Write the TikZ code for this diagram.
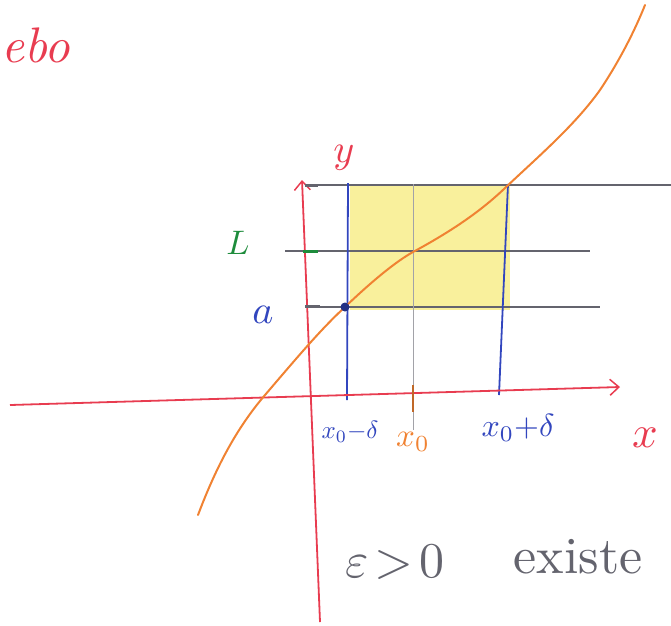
\documentclass[tikz,border=0pt]{standalone}
\usepackage{graphicx}
\usetikzlibrary{arrows.meta}
\definecolor{penred}{RGB}{232,60,80}
\definecolor{penblue}{RGB}{50,70,190}
\definecolor{pengreen}{RGB}{30,140,60}
\definecolor{penorange}{RGB}{240,130,50}
\definecolor{pengray}{RGB}{100,100,110}
\definecolor{hilite}{RGB}{245,230,90}
\tikzset{
  axis/.style={penred, line width=1.8pt, -{Straight Barb[length=9pt,width=16pt,line width=1.5pt]}},
  guide/.style={pengray, line width=1.3pt},
  vline/.style={penblue, line width=1.8pt},
  curve/.style={penorange, line width=2pt, line cap=round},
  lbl/.style={inner sep=0pt},
}
\newcommand{\sk}[2]{\scalebox{#1}{#2}}
\begin{document}
\begin{tikzpicture}[x=1pt,y=-1pt]
\useasboundingbox (0,0) rectangle (671,625);
% highlight
\fill[hilite, opacity=0.6] (350,184) rectangle (510,310);
% guides
\draw[guide] (305,185) -- (671,185);
\draw[guide] (285,251) -- (590,251);
\draw[guide] (305,307) -- (600,307);
\draw[guide, pengray!60, line width=0.9pt] (413,184) -- (413,430);
% vertical blue lines
\draw[vline] (348,183) -- (347,400);
\draw[vline] (508,184) -- (499,395);
% axes
\coordinate (xs) at (10,405);
\coordinate (xe) at (620,387);
\coordinate (ys) at (320,622);
\coordinate (ye) at (302,180);
\draw[axis] (xs) -- (xe);
\draw[axis] (ys) -- (ye);
% ticks
\draw[pengreen, line width=3pt] (303,251) -- (318,251);
\draw[pengray, line width=3pt] (305,185) -- (318,185);
\draw[pengray, line width=3pt] (305,306) -- (320,306);
\draw[penorange!80!black, line width=2.5pt] (413,385) -- (413,412);
% curve
\draw[curve] (198,515) .. controls (215,470) and (235,430) .. (265,395)
  .. controls (295,360) and (320,330) .. (345,307)
  .. controls (370,283) and (395,262) .. (413,252)
  .. controls (450,232) and (480,212) .. (505,188)
  .. controls (540,155) and (575,125) .. (600,90)
  .. controls (620,60) and (635,30) .. (645,5);
\node[circle, fill=penblue!70!black, minimum size=9pt, inner sep=0pt] (dot) at (345,307) {};
% labels
\node[lbl, penred, anchor=west] (ebo) at (1,45) {\sk{5}{\itshape ebo}};
\node[lbl, penred] (ylab) at (344,158) {\sk{4}{$y$}};
\node[lbl, penred] (xlab) at (645,438) {\sk{4.5}{$x$}};
\node[lbl, pengreen] (L) at (238,243) {\sk{3.4}{$L$}};
\node[lbl, penblue] (a) at (263,315) {\sk{4}{$a$}};
\node[lbl, penblue] (xm) at (350,432) {\sk{2.5}{$x_0{-}\delta$}};
\node[lbl, penorange] (x0) at (413,442) {\sk{3.3}{$x_0$}};
\node[lbl, penblue] (xp) at (518,428) {\sk{3.2}{$x_0{+}\delta$}};
\node[lbl, pengray] (eps) at (395,562) {\sk{5}{$\varepsilon\!>\!0$}};
\node[lbl, pengray] (ex) at (578,557) {\sk{5.2}{existe}};
\end{tikzpicture}
\end{document}
